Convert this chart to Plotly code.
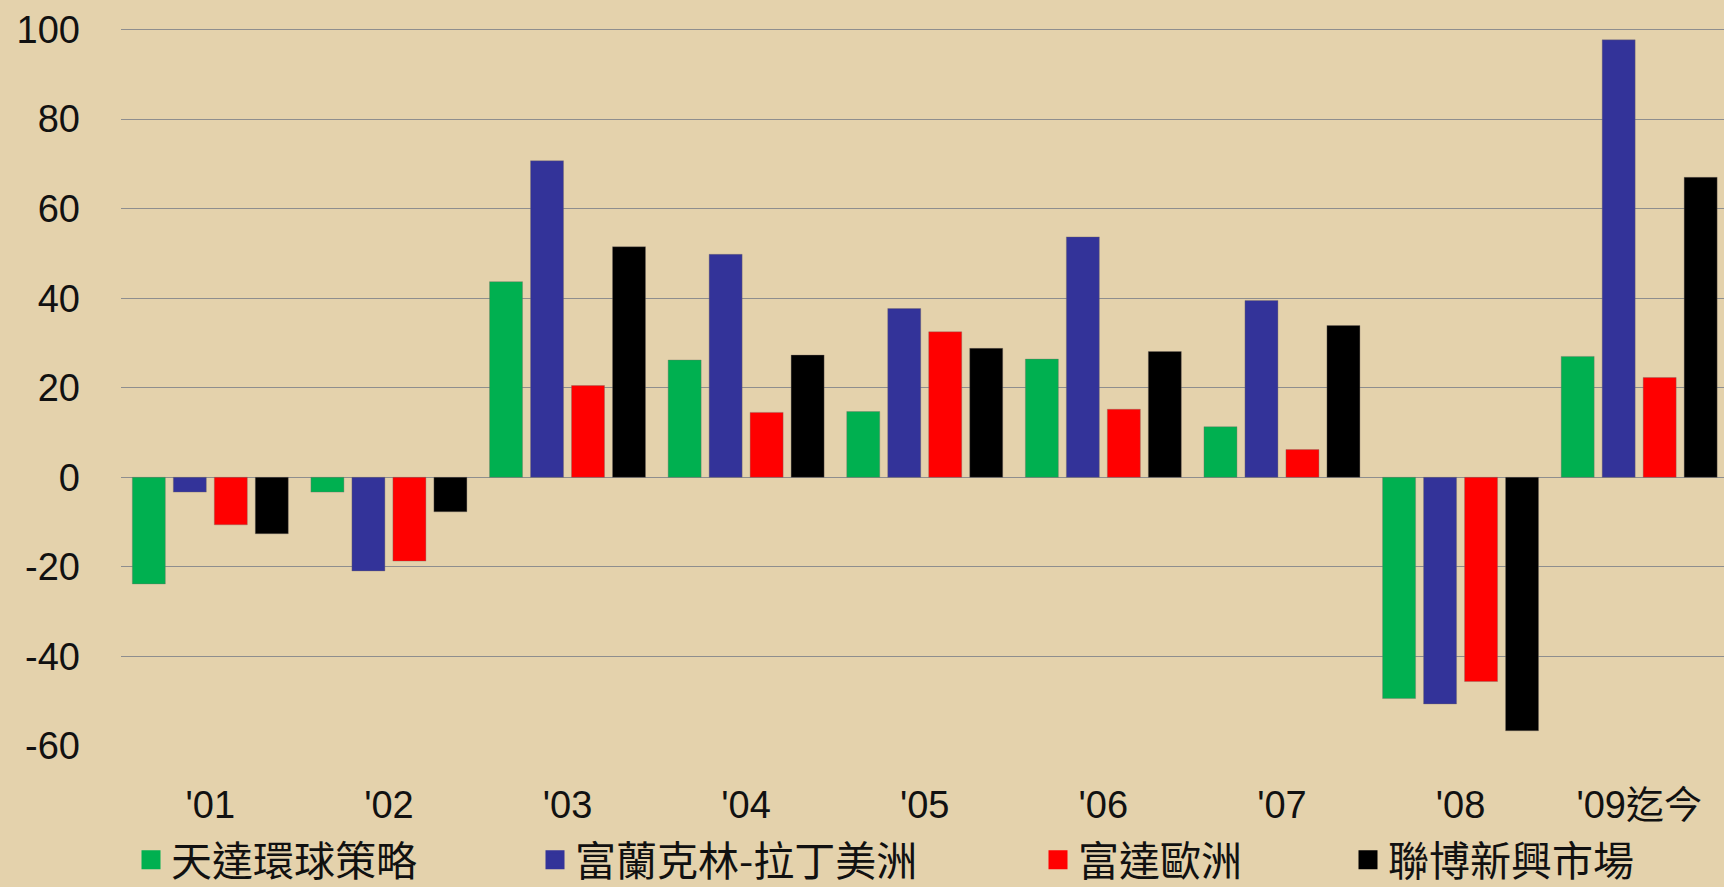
import plotly.graph_objects as go

categories = ["'01", "'02", "'03", "'04", "'05", "'06", "'07", "'08", "'09迄今"]
series_names = ["天達環球策略", "富蘭克林-拉丁美洲", "富達歐洲", "聯博新興市場"]
green_vals = [-23.8, -3.3, 43.7, 26.2, 14.7, 26.4, 11.3, -49.4, 27.0]
blue_vals = [-3.3, -20.9, 70.7, 49.8, 37.7, 53.7, 39.5, -50.6, 97.7]
red_vals = [-10.6, -18.7, 20.5, 14.5, 32.5, 15.2, 6.2, -45.6, 22.3]
black_vals = [-12.6, -7.7, 51.5, 27.3, 28.8, 28.1, 33.9, -56.6, 67.0]
colors = ["#00B050", "#333399", "#FF0000", "#000000"]
y_ticks = [-60, -40, -20, 0, 20, 40, 60, 80, 100]

W, H = 1724, 887
fig = go.Figure()
all_vals = [green_vals, blue_vals, red_vals, black_vals]
legend_ids = ["legend", "legend2", "legend3", "legend4"]
for name, vals, col, lg in zip(series_names, all_vals, colors, legend_ids):
    fig.add_trace(go.Bar(
        x=list(range(len(categories))), y=vals, name=name,
        marker=dict(color=col, line=dict(color="rgba(120,110,100,0.6)", width=0.6)),
        legendgroup=name, showlegend=False,
    ))
    # legend-only proxy so the legend key can be drawn as a larger square
    fig.add_trace(go.Scatter(
        x=[None], y=[None], mode="markers", name=name, legendgroup=name,
        marker=dict(symbol="square", size=16, color=col, line=dict(color=col, width=3)),
        legend=lg, showlegend=True, hoverinfo="skip",
    ))

legend_font = dict(family="Noto Sans CJK TC", size=41, color="#111111")
legend_x = [131, 535, 1038, 1348]
legend_common = dict(
    xref="container", yref="container", xanchor="left", yanchor="middle",
    y=(H - 860) / H, bgcolor="rgba(0,0,0,0)", font=legend_font,
    itemsizing="trace", borderwidth=0, tracegroupgap=0,
)
layout_legends = {}
for lg, lx in zip(legend_ids, legend_x):
    layout_legends[lg] = dict(x=lx / W, **legend_common)

fig.update_layout(
    width=W, height=H,
    margin=dict(l=121, r=0, t=0, b=141, pad=0, autoexpand=False),
    paper_bgcolor="#E4D2AC",
    plot_bgcolor="rgba(0,0,0,0)",
    barmode="group",
    bargap=0.082,
    bargroupgap=0.195,
    showlegend=True,
    **layout_legends,
)
fig.update_xaxes(
    tickmode="array", tickvals=list(range(len(categories))), ticktext=categories,
    range=[-0.5, 8.475], showgrid=False, zeroline=False, showline=False,
    ticks="", ticklabelstandoff=33, tickangle=0, automargin=False,
    tickfont=dict(family="Liberation Sans, Arial, Noto Sans CJK TC", size=38, color="#111111"),
)
fig.update_yaxes(
    range=[-60, 106.6], tickmode="array", tickvals=y_ticks,
    ticktext=[str(v) for v in y_ticks],
    showgrid=True, gridcolor="#8E8E8E", gridwidth=1,
    zeroline=True, zerolinecolor="#8E8E8E", zerolinewidth=1,
    showline=False, ticks="", ticklabelstandoff=40, automargin=False,
    tickfont=dict(family="Liberation Sans, Arial", size=38, color="#111111"),
)

fig.write_html("out.html", config={"displayModeBar": False},
               post_script="document.body.style.margin='0';")
